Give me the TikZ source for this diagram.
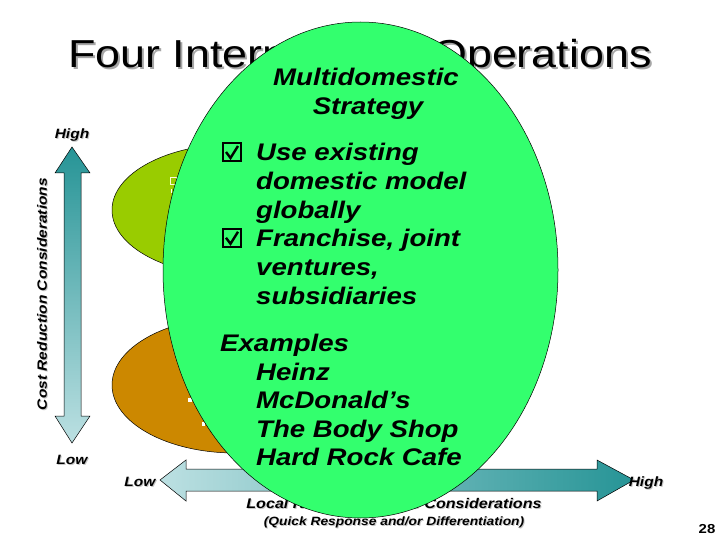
\documentclass[tikz,border=0pt]{standalone}
\usepackage{fontspec}
\setmainfont[FakeStretch=1.15]{Liberation Sans}
\definecolor{olive1}{RGB}{153,204,0}
\definecolor{brown1}{RGB}{204,136,0}
\definecolor{green1}{RGB}{51,255,110}
\definecolor{teal1}{RGB}{38,148,150}
\definecolor{teal2}{RGB}{188,224,226}
\tikzset{
  gtext/.style={font=\fontsize{24}{28}\selectfont\bfseries\itshape, inner sep=0pt},
  axlab/.style={font=\fontsize{13.5}{15}\selectfont\bfseries\itshape, inner sep=0pt},
  shd/.style={text=black!22},
  blob/.style={draw=black, line width=0.5pt},
  bigarrow/.style={draw=black, line width=0.5pt},
  cboxshape/.style={draw=black, line width=2pt, minimum width=18.5pt, minimum height=18.5pt, inner sep=0pt},
  checkmark/.style={draw=black, line width=2.4pt, line join=miter}
}
\begin{document}
\begin{tikzpicture}[x=1pt,y=-1pt]
\useasboundingbox[fill=white] (0,0) rectangle (720,540);
% title
\node[anchor=base, font=\fontsize{39}{40}\selectfont, text=black!35] (titleshadow) at (362,69.5) {Four International Operations};
\node[anchor=base, font=\fontsize{39}{40}\selectfont] (title) at (360,67.5) {Four International Operations};
% quadrant blobs
\path[blob, fill=olive1] (235,210) ellipse [x radius=123, y radius=66];
\path[blob, fill=brown1] (235,385) ellipse [x radius=123, y radius=68];
% hidden-text fragments
\draw[white!85!yellow, line width=0.8pt] (170,177) rectangle (176,184);
\draw[white, line width=1pt] (171,189) -- (171,193);
\fill[white] (188,398) rectangle (192,402);
\fill[white] (202,422) rectangle (205,426);
% vertical axis arrow
\path[bigarrow, top color=teal1, bottom color=teal2]
  (72,147) -- (90,173) -- (81,173) -- (81,416) -- (90,416) -- (72,443)
  -- (55,416) -- (64,416) -- (64,173) -- (55,173) -- cycle;
% horizontal axis arrow
\path[bigarrow, left color=teal2, right color=teal1]
  (160,480) -- (186,460) -- (186,469) -- (597,469) -- (597,460) -- (634,480)
  -- (597,501) -- (597,491) -- (186,491) -- (186,501) -- cycle;
% axis labels
\node[axlab, shd, anchor=base] (vhighs) at (73,140) {High};
\node[axlab, anchor=base] (vhigh) at (72,139) {High};
\node[axlab, shd, anchor=base] (vlows) at (73,465) {Low};
\node[axlab, anchor=base] (vlow) at (72,464) {Low};
\node[axlab, shd, anchor=base] (hlows) at (141,487) {Low};
\node[axlab, anchor=base] (hlow) at (140,486) {Low};
\node[axlab, shd, anchor=base] (hhighs) at (647,487) {High};
\node[axlab, anchor=base] (hhigh) at (646,486) {High};
\node[axlab, shd, rotate=90] (costs) at (43,295) {Cost Reduction Considerations};
\node[axlab, rotate=90] (cost) at (42,294) {Cost Reduction Considerations};
\node[font=\fontsize{14}{16}\selectfont\bfseries\itshape, inner sep=0pt, anchor=base, shd] (locals) at (395,509) {Local Responsiveness Considerations};
\node[font=\fontsize{14}{16}\selectfont\bfseries\itshape, inner sep=0pt, anchor=base] (local) at (394,508) {Local Responsiveness Considerations};
\node[font=\fontsize{12}{14}\selectfont\bfseries\itshape, inner sep=0pt, anchor=base, shd] (quicks) at (395,526) {(Quick Response and/or Differentiation)};
\node[font=\fontsize{12}{14}\selectfont\bfseries\itshape, inner sep=0pt, anchor=base] (quick) at (394,525) {(Quick Response and/or Differentiation)};
\node[font=\fontsize{13}{15}\selectfont\bfseries, inner sep=0pt, anchor=base] (pagenum) at (707,533) {28};
% multidomestic oval
\path[blob, fill=green1] (360.5,270) ellipse [x radius=197.5, y radius=248];
\node[gtext, anchor=base] (h1) at (366,86) {Multidomestic};
\node[gtext, anchor=base] (h2) at (368,115) {Strategy};
\node[cboxshape] (c1) at (232,152) {};
\draw[checkmark] (c1.center) ++(-6,0) -- ++(4.5,6) -- ++(7.5,-12);
\node[gtext, anchor=base west] (b1) at (256,161) {Use existing};
\node[gtext, anchor=base west] (b2) at (256,189.6) {domestic model};
\node[gtext, anchor=base west] (b3) at (256,218.2) {globally};
\node[cboxshape] (c2) at (232,237.8) {};
\draw[checkmark] (c2.center) ++(-6,0) -- ++(4.5,6) -- ++(7.5,-12);
\node[gtext, anchor=base west] (b4) at (256,246.8) {Franchise, joint};
\node[gtext, anchor=base west] (b5) at (256,275.4) {ventures,};
\node[gtext, anchor=base west] (b6) at (256,304) {subsidiaries};
\node[gtext, anchor=base west] (e0) at (220,351) {Examples};
\node[gtext, anchor=base west] (e1) at (256,380) {Heinz};
\node[gtext, anchor=base west] (e2) at (256,408.6) {McDonald’s};
\node[gtext, anchor=base west] (e3) at (256,437.2) {The Body Shop};
\node[gtext, anchor=base west] (e4) at (256,465.8) {Hard Rock Cafe};
\end{tikzpicture}
\end{document}
